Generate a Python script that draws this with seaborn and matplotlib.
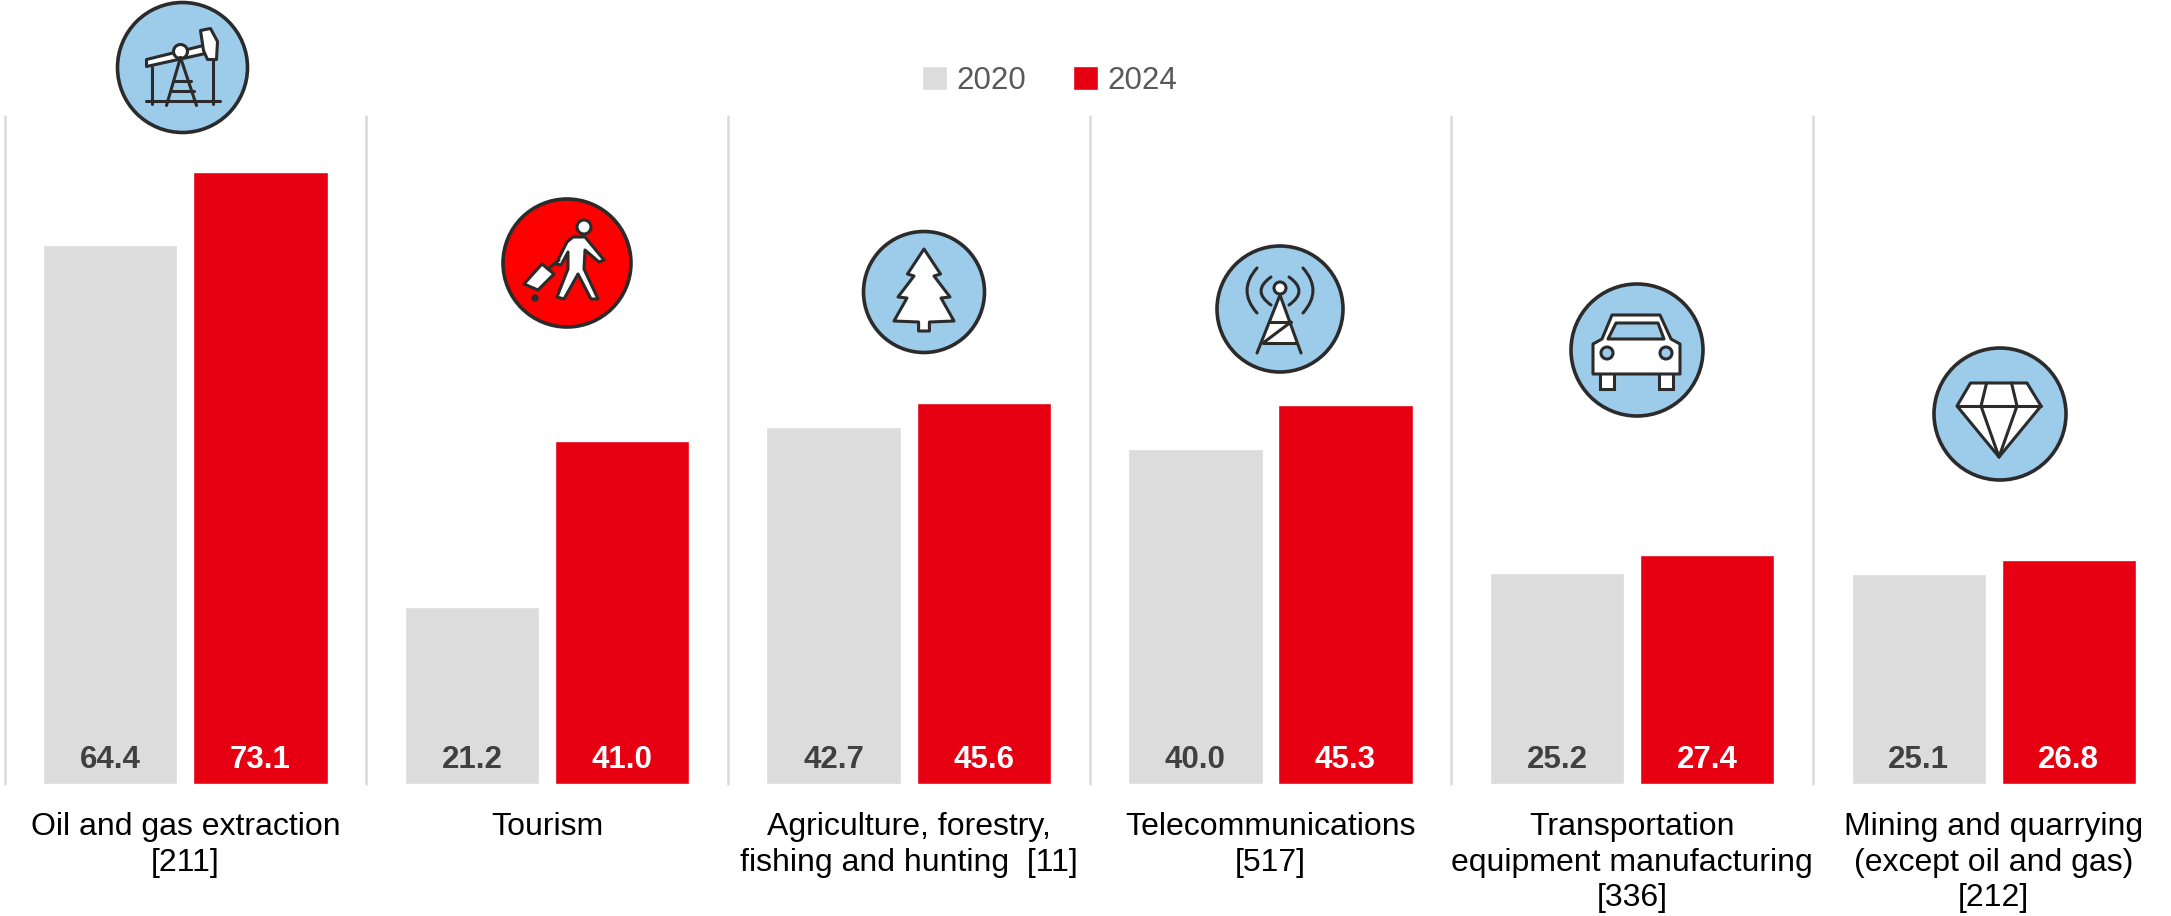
import pandas as pd
import matplotlib
matplotlib.use('Agg')
import matplotlib.pyplot as plt
import seaborn as sns
from matplotlib.patches import Circle, Polygon, PathPatch, Rectangle
from matplotlib.path import Path

categories = ['Oil and gas extraction\n[211]', 'Tourism', 'Agriculture, forestry,\nfishing and hunting  [11]',
              'Telecommunications\n[517]', 'Transportation\nequipment manufacturing\n[336]',
              'Mining and quarrying\n(except oil and gas)\n[212]']
values_2020 = [64.4, 21.2, 42.7, 40.0, 25.2, 25.1]
values_2024 = [73.1, 41.0, 45.6, 45.3, 27.4, 26.8]

W, H = 2171, 916
GRAY = '#DCDCDC'
RED = '#E60012'
BLUE = '#9DCBEA'
INK = '#2B2B2B'

sns.set_theme(style='white')
plt.rcParams['font.family'] = ['Liberation Sans', 'DejaVu Sans']

df = pd.DataFrame({'category': categories * 2,
                   'year': ['2020'] * 6 + ['2024'] * 6,
                   'value': values_2020 + values_2024})

fig = plt.figure(figsize=(W / 100, H / 100), dpi=100)
ax = fig.add_axes([4.5 / W, 1 - 784 / H, 2166.5 / W, 668 / H])
sns.barplot(data=df, x='category', y='value', hue='year', palette=[GRAY, RED],
            width=0.83, gap=0.105, saturation=1, ax=ax)
ax.set_xlim(-0.5, 5.49)
ax.set_ylim(0, 79.85)
ax.set_xlabel('')
ax.set_ylabel('')
ax.set_yticks([])
ax.tick_params(axis='x', length=0, pad=20, labelsize=23, labelcolor='black')
for lab in ax.get_xticklabels():
    lab.set_linespacing(1.25)
sns.despine(ax=ax, left=True, bottom=True)

# separators between the groups
for i in range(6):
    ax.axvline(i - 0.5, color='#D9D9D9', lw=1.8, zorder=0, clip_on=False)

# value labels sit at the foot of the bars
for cont, col in zip(ax.containers, ['#404040', 'white']):
    for p in cont:
        ax.annotate(f'{p.get_height():.1f}', (p.get_x() + p.get_width() / 2, 0), xytext=(0, 17.5),
                    textcoords='offset points', ha='center', va='center',
                    fontsize=22.5, fontweight='bold', color=col)

handles, labels = ax.get_legend_handles_labels()
ax.legend(handles, labels, ncol=2, frameon=False, loc='center', bbox_to_anchor=(1050 / W, 1 - 81 / H),
          bbox_transform=fig.transFigure, fontsize=22.5, labelcolor='#595959', handlelength=0.8,
          handleheight=0.8, handletextpad=0.3, columnspacing=1.5, borderpad=0)

# icons, in pixel coordinates
ic = fig.add_axes([0, 0, 1, 1])
ic.set_xlim(0, W)
ic.set_ylim(H, 0)
ic.axis('off')
LW = 2.2


def poly(cx, cy, pts, fc='white', lw=LW):
    ic.add_patch(Polygon([(cx + x, cy + y) for x, y in pts], closed=True, fc=fc, ec=INK, lw=lw, joinstyle='round'))


def line(cx, cy, x0, y0, x1, y1, lw=LW):
    ic.plot([cx + x0, cx + x1], [cy + y0, cy + y1], color=INK, lw=lw, solid_capstyle='round')


def dot(cx, cy, x, y, r, fc='white', lw=LW):
    ic.add_patch(Circle((cx + x, cy + y), r, fc=fc, ec=INK, lw=lw))


def badge(cx, cy, r, fc=BLUE):
    ic.add_patch(Circle((cx, cy), r, fc=fc, ec=INK, lw=2.6))


# pump jack
cx, cy = 182.5, 67.5
badge(cx, cy, 65)
line(cx, cy, -31, -1, -31, 36)
line(cx, cy, 30, -8, 30, 36)
line(cx, cy, -37, 33, 37, 33)
line(cx, cy, -2, -10, -16, 38)
line(cx, cy, -2, -10, 14, 38)
line(cx, cy, -8, 13, 8, 13)
line(cx, cy, -11, 23, 11, 23)
poly(cx, cy, [(-36, -8), (-36, -1), (23, -14), (21, -22)])
poly(cx, cy, [(18, -37), (28, -39), (35, -26), (34, -8), (25, -8), (21, -17)])
dot(cx, cy, -2, -16, 7)

# walker with suitcase
cx, cy = 567, 263
badge(cx, cy, 64, fc='#FF0000')
dot(cx, cy, 17, -36, 7)
poly(cx, cy, [(6, -26), (18, -26), (37, -3), (32, -1), (18, -13), (17, 6), (31, 36), (24, 36), (11, 11), (-3, 36),
              (-10, 34), (1, 6), (1, -11), (-6, 2), (-11, 1), (0, -21)])
poly(cx, cy, [(-43, 21), (-25, 1), (-13, 11), (-29, 27)])
line(cx, cy, -19, 6, -8, -3)
dot(cx, cy, -32, 35, 3, fc=INK, lw=1)

# tree
cx, cy = 924, 292
badge(cx, cy, 60.5)
tree = [(0, -43), (16.5, -18), (10, -16), (26, 5), (17, 6), (30, 29), (5.4, 30), (5.4, 39)]
poly(cx, cy, tree + [(-x, y) for x, y in tree[:0:-1]])

# radio mast
cx, cy = 1280, 309
badge(cx, cy, 63)
poly(cx, cy, [(0, -14), (21, 44), (-23, 44)], lw=0.01)
ic.add_patch(Rectangle((cx - 24, cy + 34.5), 48, 12, fc=BLUE, ec='none'))
line(cx, cy, 0, -14, -23, 44)
line(cx, cy, 0, -14, 21, 44)
line(cx, cy, -11, 13, 11, 13)
line(cx, cy, -17, 34, 17, 34)
line(cx, cy, -17, 34, 11, 13)
dot(cx, cy, 0, -21, 6)
for x0, xc, y0, y1 in [(9, 29, -32, -4), (23, 43, -41, 4)]:
    for s in (-1, 1):
        verts = [(cx + s * x0, cy + y0), (cx + s * xc, cy + (y0 + y1) / 2), (cx + s * x0, cy + y1)]
        ic.add_patch(PathPatch(Path(verts, [Path.MOVETO, Path.CURVE3, Path.CURVE3]), fc='none', ec=INK, lw=LW,
                               capstyle='round'))

# car
cx, cy = 1637, 350
badge(cx, cy, 66)
for x0 in (-37, 22):
    ic.add_patch(Rectangle((cx + x0, cy + 20), 14, 19, fc='white', ec=INK, lw=LW))
poly(cx, cy, [(-25, -35), (23, -35), (34, -11), (43, -6), (43, 24), (-44, 24), (-44, -6), (-35, -11)])
poly(cx, cy, [(-21, -27), (21, -27), (27, -11), (-29, -11)], fc=BLUE)
dot(cx, cy, -30, 3, 6, fc=BLUE)
dot(cx, cy, 29, 3, 6, fc=BLUE)

# diamond
cx, cy = 2000, 414
badge(cx, cy, 66)
poly(cx, cy, [(-29.5, -31), (27, -31), (41, -8), (-1, 43), (-43, -8)])
line(cx, cy, -43, -8, 41, -8)
line(cx, cy, -13.4, -31, -19, -8)
line(cx, cy, -19, -8, -1, 43)
line(cx, cy, 11.5, -31, 17, -8)
line(cx, cy, 17, -8, -1, 43)

fig.savefig('out.png', dpi=100)
